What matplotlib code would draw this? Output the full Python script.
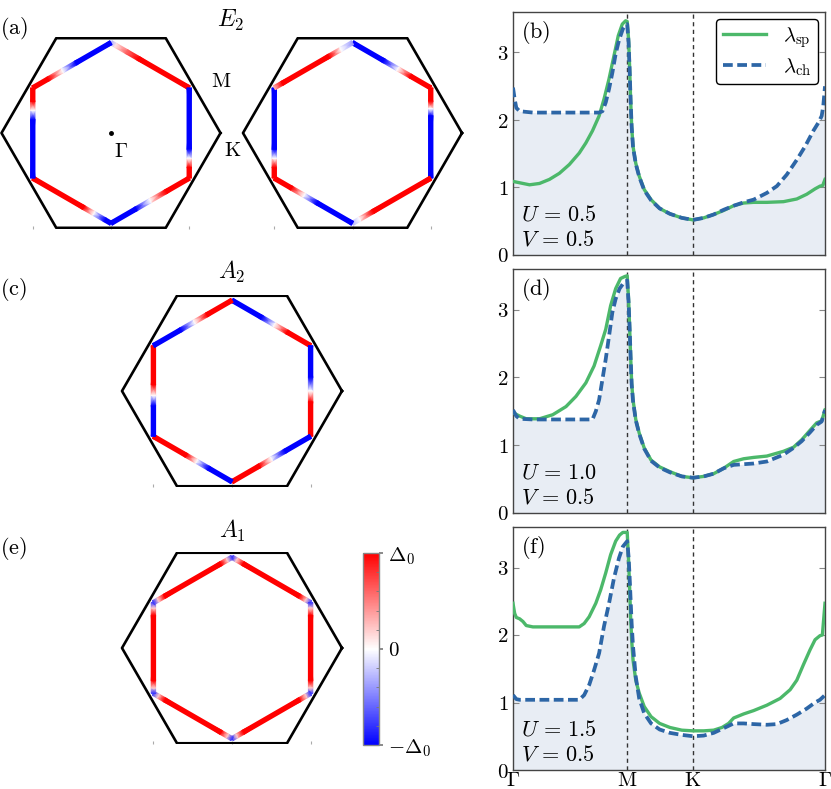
import numpy as np
import matplotlib.pyplot as plt

plt.rcParams['mathtext.fontset'] = 'cm'
plt.rcParams['font.family'] = 'serif'
plt.rcParams['font.serif'] = ['DejaVu Serif']

# ---------------- line data: path Gamma-M-K-Gamma ----------------
k_ticks = [0.0, 1.0, 1.577, 2.732]
k_labels = [r'$\Gamma$', r'$\mathrm{M}$', r'$\mathrm{K}$', r'$\Gamma$']

# (b) U=0.5
k_sp_b = [0, 0.058, 0.145, 0.232, 0.319, 0.406, 0.493, 0.580, 0.638, 0.696,
          0.754, 0.797, 0.841, 0.884, 0.922, 0.957, 0.986, 1.0,
          1.012, 1.021, 1.030, 1.039, 1.051, 1.075, 1.105, 1.149, 1.209, 1.284, 1.374, 1.478, 1.577,
          1.670, 1.757, 1.845, 1.932, 2.019, 2.107, 2.223, 2.368, 2.485, 2.572, 2.645, 2.688, 2.712, 2.732]
lam_sp_b = [1.09, 1.07, 1.04, 1.06, 1.12, 1.21, 1.34, 1.51, 1.66, 1.84,
            2.06, 2.31, 2.61, 2.95, 3.25, 3.42, 3.47, 3.46,
            3.20, 2.80, 2.31, 1.91, 1.61, 1.36, 1.17, 0.97, 0.82, 0.69, 0.61, 0.55, 0.52,
            0.55, 0.60, 0.66, 0.73, 0.77, 0.78, 0.78, 0.79, 0.83, 0.90, 0.98, 1.02, 1.03, 1.12]
k_ch_b = [0, 0.0145, 0.029, 0.058, 0.174, 0.754, 0.783, 0.812, 0.841, 0.870, 0.899, 0.928, 0.962, 0.986, 1.0,
          1.012, 1.021, 1.030, 1.039, 1.051, 1.075, 1.105, 1.149, 1.209, 1.284, 1.374, 1.478, 1.577,
          1.670, 1.757, 1.845, 1.932, 2.019, 2.107, 2.223, 2.310, 2.397, 2.485, 2.558, 2.630, 2.674,
          2.703, 2.717, 2.732]
lam_ch_b = [2.48, 2.31, 2.18, 2.13, 2.11, 2.11, 2.13, 2.26, 2.46, 2.70, 2.98, 3.18, 3.35, 3.41, 3.42,
            3.15, 2.76, 2.29, 1.90, 1.60, 1.35, 1.16, 0.96, 0.81, 0.69, 0.61, 0.55, 0.52,
            0.55, 0.60, 0.67, 0.73, 0.78, 0.82, 0.92, 1.02, 1.19, 1.41, 1.61, 1.84, 1.96,
            2.06, 2.21, 2.50]

# (d) U=1.0
k_sp_d = [0, 0.058, 0.116, 0.232, 0.348, 0.464, 0.551, 0.638, 0.710, 0.768, 0.812, 0.855, 0.899,
          0.942, 0.980, 1.0,
          1.012, 1.021, 1.030, 1.039, 1.051, 1.075, 1.105, 1.149, 1.209, 1.284, 1.374, 1.478, 1.577,
          1.670, 1.757, 1.845, 1.932, 2.019, 2.107, 2.223, 2.368, 2.456, 2.528, 2.601, 2.659, 2.703, 2.732]
lam_sp_d = [1.48, 1.43, 1.39, 1.39, 1.45, 1.57, 1.72, 1.92, 2.17, 2.47, 2.71, 3.06, 3.31,
            3.46, 3.49, 3.50,
            3.16, 2.76, 2.32, 1.92, 1.67, 1.38, 1.18, 0.96, 0.78, 0.68, 0.61, 0.54, 0.52,
            0.54, 0.58, 0.66, 0.76, 0.80, 0.82, 0.84, 0.91, 0.97, 1.08, 1.22, 1.33, 1.36, 1.52]
k_ch_d = [0, 0.029, 0.058, 0.174, 0.696, 0.725, 0.754, 0.783, 0.812, 0.841, 0.870, 0.899, 0.933,
          0.971, 1.0,
          1.012, 1.021, 1.030, 1.039, 1.051, 1.075, 1.105, 1.149, 1.209, 1.284, 1.374, 1.478, 1.577,
          1.670, 1.757, 1.845, 1.932, 2.019, 2.107, 2.223, 2.368, 2.456, 2.528, 2.601, 2.659, 2.703, 2.732]
lam_ch_d = [1.52, 1.43, 1.39, 1.38, 1.38, 1.50, 1.67, 1.97, 2.27, 2.61, 2.96, 3.16, 3.31,
            3.40, 3.43,
            3.11, 2.74, 2.30, 1.90, 1.65, 1.37, 1.17, 0.95, 0.77, 0.67, 0.60, 0.54, 0.52,
            0.54, 0.58, 0.66, 0.71, 0.72, 0.73, 0.76, 0.86, 0.96, 1.06, 1.19, 1.30, 1.35, 1.52]

# (f) U=1.5
k_sp_f = [0, 0.0145, 0.029, 0.058, 0.087, 0.116, 0.174, 0.580, 0.623, 0.667, 0.725, 0.768, 0.812,
          0.855, 0.899, 0.933, 0.962, 1.0,
          1.012, 1.021, 1.030, 1.039, 1.051, 1.075, 1.105, 1.149, 1.209, 1.284, 1.374, 1.478, 1.577,
          1.670, 1.757, 1.830, 1.888, 1.932, 2.019, 2.107, 2.223, 2.339, 2.427, 2.485, 2.543, 2.601,
          2.645, 2.688, 2.709, 2.732]
lam_sp_f = [2.47, 2.32, 2.26, 2.24, 2.20, 2.14, 2.12, 2.12, 2.17, 2.27, 2.47, 2.67, 2.92,
            3.19, 3.39, 3.48, 3.52, 3.52,
            3.11, 2.72, 2.27, 1.93, 1.63, 1.33, 1.14, 0.94, 0.79, 0.69, 0.63, 0.59, 0.58,
            0.58, 0.59, 0.63, 0.69, 0.77, 0.83, 0.88, 0.96, 1.06, 1.19, 1.33, 1.56, 1.78,
            1.93, 1.99, 2.00, 2.47]
k_ch_f = [0, 0.029, 0.058, 0.580, 0.623, 0.667, 0.710, 0.754, 0.797, 0.841, 0.884, 0.928, 0.962, 1.0,
          1.012, 1.021, 1.030, 1.039, 1.051, 1.075, 1.105, 1.149, 1.209, 1.284, 1.374, 1.478, 1.577,
          1.670, 1.757, 1.845, 1.932, 2.019, 2.107, 2.223, 2.310, 2.397, 2.485, 2.572, 2.645, 2.688, 2.732]
lam_ch_f = [1.11, 1.05, 1.04, 1.04, 1.11, 1.26, 1.48, 1.73, 2.13, 2.47, 2.84, 3.14, 3.31, 3.39,
            3.16, 2.87, 2.52, 2.17, 1.83, 1.38, 1.06, 0.84, 0.69, 0.60, 0.55, 0.52, 0.50,
            0.51, 0.55, 0.62, 0.69, 0.69, 0.68, 0.67, 0.68, 0.74, 0.82, 0.91, 1.00, 1.04, 1.11]

U_vals = ['0.5', '1.0', '1.5']
V_vals = ['0.5', '0.5', '0.5']

# ---------------- gap along the Fermi-surface hexagon ----------------
# edges run clockwise from the top vertex; (position along edge, gap / Delta_0)
gap_E2_left = [([0, 0.06, 0.2, 0.35, 1], [-0.3, 0.1, 0.6, 1, 1]),
               ([0, 0.68, 0.78, 0.88, 1], [-1, -1, 0, 1, 1]),
               ([0, 0.3, 0.5, 0.68, 1], [1, 1, 0, -1, -1]),
               ([0, 0.08, 0.22, 0.35, 1], [-1, -1, 0, 1, 1]),
               ([0, 0.65, 0.75, 0.85, 1], [-1, -1, 0, 1, 1]),
               ([0, 0.2, 0.38, 0.55, 1], [1, 1, 0, -1, -1])]
gap_E2_right = [([0, 0.4, 0.58, 0.74, 1], [-1, -1, 0, 1, 1]),
                ([0, 0.15, 0.23, 0.31, 1], [1, 1, 0, -1, -1]),
                ([0, 0.74, 0.91, 1], [1, 1, 0, -0.3]),
                ([0, 0.46, 0.62, 0.78, 1], [-1, -1, 0, 1, 1]),
                ([0, 0.12, 0.22, 0.32, 1], [1, 1, 0, -1, -1]),
                ([0, 0.1, 0.7, 0.85, 1], [0.3, 1, 1, 0, -0.4])]
gap_A2 = [([0, 0.38, 0.54, 0.7, 1], [-1, -1, 0, 1, 1]),
          ([0, 0.35, 0.5, 0.62, 1], [-1, -1, 0, 1, 1]),
          ([0, 0.33, 0.5, 0.65, 1], [-1, -1, 0, 1, 1]),
          ([0, 0.3, 0.45, 0.58, 1], [-1, -1, 0, 1, 1]),
          ([0, 0.34, 0.45, 0.57, 1], [-1, -1, 0, 1, 1]),
          ([0, 0.35, 0.52, 0.68, 1], [-1, -1, 0, 1, 1])]
gap_A1 = [([0, 0.06, 0.14, 0.86, 0.94, 1], [-0.8, 0.2, 1, 1, 0.2, -0.8])] * 6

green = '#4cb86a'
blue = '#2d66a6'
fill_c = '#e8edf4'

W, H = 831, 789
fig = plt.figure(figsize=(W / 100, H / 100), dpi=100)


def px_axes(x0, y0, x1, y1):
    return fig.add_axes([x0 / W, 1 - y1 / H, (x1 - x0) / W, (y1 - y0) / H])


def draw_bz(ax, edges, r_in=0.825):
    ang = np.radians(np.arange(0, 361, 60))
    ax.plot(np.cos(ang), np.sin(ang), color='k', lw=1.9, zorder=3)
    vang = np.radians([90, 30, -30, -90, -150, 150, 90])
    vx, vy = r_in * np.cos(vang), r_in * np.sin(vang)
    for i, (t, v) in enumerate(edges):
        t = np.asarray(t, float)
        d = np.array([vx[i + 1] - vx[i], vy[i + 1] - vy[i]])
        n = np.array([-d[1], d[0]]) / np.hypot(*d) * 0.02
        px = vx[i] + t * d[0]
        py = vy[i] + t * d[1]
        X = np.vstack([px - n[0], px + n[0]])
        Y = np.vstack([py - n[1], py + n[1]])
        C = np.vstack([v, v]).astype(float)
        ax.pcolormesh(X, Y, C, cmap='bwr', vmin=-1, vmax=1, shading='gouraud', zorder=2)
    ax.set_xlim(-1.02, 1.02)
    ax.set_ylim(-0.875, 0.875)
    ax.set_aspect('equal')
    for s in ax.spines.values():
        s.set_visible(False)
    ax.set_xticks([-0.715, 0, 0.715])
    ax.set_xticklabels([])
    ax.set_yticks([])
    ax.tick_params(axis='x', direction='in', length=2.5, color='#aaaaaa', width=0.8)


def hex_axes(cx, cy, R=110):
    return px_axes(cx - 1.02 * R, cy - 0.875 * R, cx + 1.02 * R, cy + 0.875 * R)


ax_a1 = hex_axes(111, 133, 109.5)
draw_bz(ax_a1, gap_E2_left)
ax_a1.plot(0, 0, 'o', color='k', ms=2.5)
ax_a1.text(0.03, -0.08, r'$\Gamma$', fontsize=15, va='top', ha='left')
ax_a1.text(0.91, 0.47, r'$\mathrm{M}$', fontsize=15, va='center', ha='left')
ax_a1.text(1.03, -0.16, r'$\mathrm{K}$', fontsize=15, va='center', ha='left')

ax_a2 = hex_axes(352.5, 133, 109.5)
draw_bz(ax_a2, gap_E2_right)

ax_c = hex_axes(232, 391)
draw_bz(ax_c, gap_A2)

ax_e = hex_axes(232, 648)
draw_bz(ax_e, gap_A1)

fig.text(230 / W, 1 - 20 / H, r'$E_2$', fontsize=17, ha='center', va='center')
fig.text(232 / W, 1 - 272 / H, r'$A_2$', fontsize=17, ha='center', va='center')
fig.text(232 / W, 1 - 531 / H, r'$A_1$', fontsize=17, ha='center', va='center')
for lab, y in zip(['a', 'c', 'e'], [29, 289, 548]):
    fig.text(0.0, 1 - y / H, r'$(\mathrm{%s})$' % lab, fontsize=16, ha='left', va='center')

# colorbar
cax = px_axes(363, 553, 379, 745)
sm = plt.cm.ScalarMappable(cmap='bwr', norm=plt.Normalize(-1, 1))
cb = fig.colorbar(sm, cax=cax)
cb.set_ticks([-1, 0, 1])
cb.set_ticklabels([r'$-\Delta_0$', r'$0$', r'$\Delta_0$'])
cb.ax.tick_params(labelsize=15, length=3, color='#777777', width=1.2)
cb.ax.minorticks_on()
cb.ax.tick_params(which='minor', length=2, color='#777777', direction='in')
cb.outline.set_edgecolor('#888888')
cb.outline.set_linewidth(1)

# ---------------- right-hand line panels ----------------
panels = [(12, 255, 'b', k_sp_b, lam_sp_b, k_ch_b, lam_ch_b),
          (269, 513, 'd', k_sp_d, lam_sp_d, k_ch_d, lam_ch_d),
          (527, 770, 'f', k_sp_f, lam_sp_f, k_ch_f, lam_ch_f)]

for i, (y0, y1, lab, ks, ls_, kc, lc) in enumerate(panels):
    ax = px_axes(513, y0, 825, y1)
    ax.fill_between(kc, 0, lc, color=fill_c, lw=0, zorder=0)
    ax.plot(ks, ls_, color=green, lw=2.4, label=r'$\lambda_{\rm sp}$', zorder=3,
            solid_joinstyle='round')
    ax.plot(kc, lc, color=blue, lw=2.7, ls=(0, (2.6, 1.2)), label=r'$\lambda_{\rm ch}$', zorder=4)
    for kv in k_ticks[1:3]:
        ax.axvline(kv, color='#333333', lw=1.0, ls=(0, (3, 2.5)), zorder=1)
    ax.set_xlim(0, 2.732)
    ax.set_ylim(0, 3.6)
    ax.set_yticks([0, 1, 2, 3])
    ax.set_yticklabels([r'$0$', r'$1$', r'$2$', r'$3$'])
    ax.set_xticks(k_ticks)
    if i == 2:
        ax.set_xticklabels(k_labels)
    else:
        ax.set_xticklabels([])
    ax.tick_params(axis='y', direction='in', left=True, right=True, length=4,
                   color='#888888', labelsize=15, pad=3)
    ax.tick_params(axis='x', length=0, labelsize=15, pad=1)
    for s in ax.spines.values():
        s.set_color('#444444')
        s.set_linewidth(1.0)
    ax.text(0.025, 0.97, r'$(\mathrm{%s})$' % lab, transform=ax.transAxes,
            fontsize=16, ha='left', va='top')
    ax.text(0.025, 0.168, r'$U\,=\,%s$' % U_vals[i], transform=ax.transAxes,
            fontsize=16, ha='left', va='center')
    ax.text(0.025, 0.065, r'$V\,=\,%s$' % V_vals[i], transform=ax.transAxes,
            fontsize=16, ha='left', va='center')
    if i == 0:
        leg = ax.legend(loc='upper right', fontsize=15, handlelength=2.1,
                        borderaxespad=0.35, labelspacing=0.3, handletextpad=0.8,
                        fancybox=True, framealpha=1, borderpad=0.3)
        leg.get_frame().set_edgecolor('black')
        leg.get_frame().set_linewidth(1.0)

fig.savefig('out.png', dpi=100)
